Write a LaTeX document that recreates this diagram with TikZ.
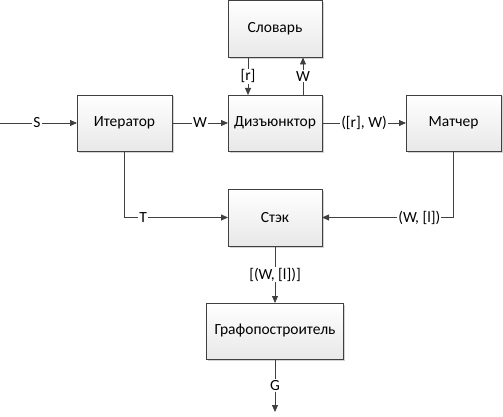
\documentclass[tikz,border=0pt]{standalone}
\usepackage{fontspec}
\setmainfont{Carlito}
\usetikzlibrary{arrows.meta,shadows}
\definecolor{edgegray}{HTML}{404040}
\tikzset{
  block/.style={draw=edgegray, line width=0.8pt, top color=white, bottom color=gray!18,
    drop shadow={shadow xshift=1.5pt, shadow yshift=-1.5pt, opacity=0.35},
    minimum width=94pt, minimum height=56pt, outer sep=0pt, inner sep=2pt},
  arr/.style={draw=edgegray, line width=0.8pt, -{Triangle[length=7pt,width=6pt]}},
  lbl/.style={fill=white, inner sep=1pt, text=black}
}
\begin{document}
\begin{tikzpicture}[x=1pt, y=-1pt, font=\fontsize{15.5}{18}\selectfont]
	\useasboundingbox (0,0) rectangle (503,417);
	% blocks
	\node [block, minimum height=57pt] (slovar) at (275,29) {Словарь};
	\node [block, minimum width=95pt] (iter) at (124.5,123) {Итератор};
	\node [block] (disj) at (275,123) {Дизъюнктор};
	\node [block, minimum width=95pt] (match) at (453.5,123) {Матчер};
	\node [block, minimum height=57pt] (stek) at (275,217.5) {Стэк};
	\node [block, minimum width=137pt] (graf) at (275,331) {Графопостроитель};
	\coordinate (in) at (0,123);
	\coordinate (out) at (275,412);
	% connectors
	\draw [arr] (in) -- node [lbl, pos=0.48] {S} (iter);
	\draw [arr] (iter) -- node [lbl] {W} (disj);
	\draw [arr] (disj) -- node [lbl] {([r], W)} (match);
	\draw [arr] ([xshift=-27pt]slovar.south) -- node [lbl] {[r]} ([xshift=-27pt]disj.north);
	\draw [arr] ([xshift=28pt]disj.north) -- node [lbl] {W} ([xshift=28pt]slovar.south);
	\draw [arr] (iter.south) |- node [lbl, pos=0.59] {T} (stek.west);
	\draw [arr] (match.south) |- node [lbl, pos=0.63] {(W, [l])} (stek.east);
	\draw [arr] (stek) -- node [lbl] {[(W, [l])]} (graf);
	\draw [arr] (graf) -- node [lbl] {G} (out);
\end{tikzpicture}
\end{document}
